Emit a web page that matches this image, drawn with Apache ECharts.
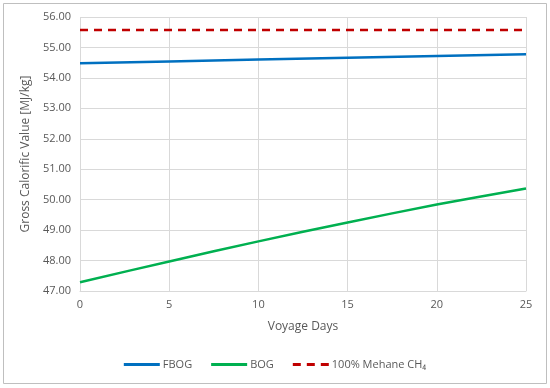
<!DOCTYPE html>
<html><head><meta charset="utf-8">
<script src="https://cdn.jsdelivr.net/npm/echarts@6/dist/echarts.min.js"></script>
<style>html,body{margin:0;padding:0;background:#fff}#c{width:550px;height:388px}</style>
</head><body><div id="c"></div>
<script>
const days = [0, 5, 10, 15, 20, 25];
const fbog = [54.48, 54.54, 54.60, 54.66, 54.72, 54.78];
const bog = [47.29, 47.97, 48.63, 49.25, 49.84, 50.37];
const methane = [55.57, 55.57, 55.57, 55.57, 55.57, 55.57];
const seriesNames = ['FBOG', 'BOG', '100% Mehane CH\u2084'];
const xTitle = 'Voyage Days';
const yTitle = 'Gross Calorific Value [MJ/kg]';

const font = 'Open Sans';
const txt = '#595959';
const pair = a => days.map((d, i) => [d, a[i]]);
const solidIcon = 'path://M0,0h36v3h-36z';
const dashIcon = 'path://M0,0h8v3h-8zM14,0h8v3h-8zM28,0h8v3h-8z';
const chart = echarts.init(document.getElementById('c'), null, {renderer: 'canvas'});
chart.setOption({
  animation: false,
  graphic: [{type: 'rect', shape: {x: 3.5, y: 3.5, width: 543, height: 380}, style: {fill: 'none', stroke: '#bfbfbf', lineWidth: 1}}],
  grid: {left: 80, right: 24, top: 17, bottom: 97},
  xAxis: {
    type: 'value', min: 0, max: 25, interval: 5,
    name: xTitle, nameLocation: 'middle', nameGap: 30,
    nameTextStyle: {color: txt, fontFamily: font, fontSize: 12},
    axisLine: {show: true, lineStyle: {color: '#d9d9d9'}}, axisTick: {show: false},
    axisLabel: {color: txt, fontFamily: font, fontSize: 11, margin: 8},
    splitLine: {show: true, lineStyle: {color: '#d9d9d9'}}
  },
  yAxis: {
    type: 'value', min: 47, max: 56, interval: 1,
    name: yTitle, nameLocation: 'middle', nameGap: 45,
    nameTextStyle: {color: txt, fontFamily: font, fontSize: 12},
    axisLine: {show: false}, axisTick: {show: false},
    axisLabel: {color: txt, fontFamily: font, fontSize: 11, margin: 9, formatter: v => v.toFixed(2)},
    splitLine: {show: true, lineStyle: {color: '#d9d9d9'}}
  },
  legend: {
    bottom: 13, left: 'center', itemWidth: 36, itemHeight: 3, itemGap: 19,
    textStyle: {color: txt, fontFamily: font, fontSize: 11, padding: [0, 0, 0, -2]},
    data: [
      {name: seriesNames[0], icon: solidIcon},
      {name: seriesNames[1], icon: solidIcon},
      {name: seriesNames[2], icon: dashIcon}
    ]
  },
  series: [
    {name: seriesNames[0], type: 'line', data: pair(fbog), showSymbol: false, symbol: 'none', lineStyle: {color: '#0070c0', width: 2.5}, itemStyle: {color: '#0070c0'}},
    {name: seriesNames[1], type: 'line', data: pair(bog), showSymbol: false, symbol: 'none', smooth: 0.3, lineStyle: {color: '#00b050', width: 2.5}, itemStyle: {color: '#00b050'}},
    {name: seriesNames[2], type: 'line', data: pair(methane), showSymbol: false, symbol: 'none', lineStyle: {color: '#c00000', width: 2.5, type: [8, 6]}, itemStyle: {color: '#c00000'}}
  ]
});
</script></body></html>
